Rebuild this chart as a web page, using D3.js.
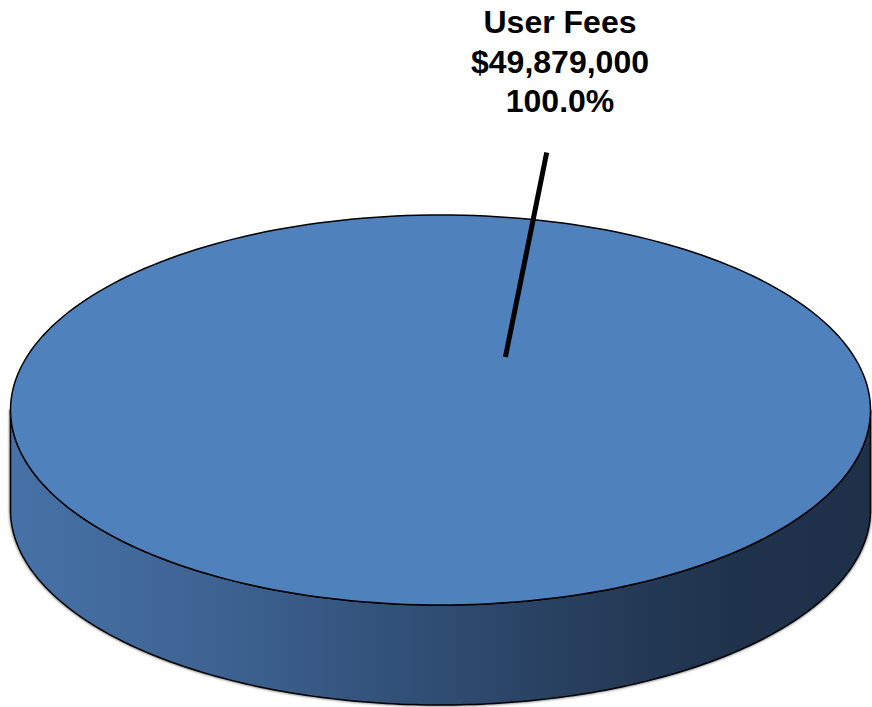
<!DOCTYPE html>
<html>
<head>
<meta charset="utf-8">
<script src="https://cdn.jsdelivr.net/npm/d3@7"></script>
<style>
  html, body { margin: 0; padding: 0; background: #ffffff; }
  svg { display: block; }
</style>
</head>
<body>
<svg id="chart" width="872" height="707"></svg>
<script>
// Revenue sources
const categories = ["User Fees"];
const values = [49879000];
const colors = ["#4f81bd"];

const W = 872, H = 707;
const cx = 440.5, cy = 410, rx = 430, ry = 195, depth = 100;

const svg = d3.select("#chart");
const defs = svg.append("defs");

// side shading, light on the left to dark on the right
const grad = defs.append("linearGradient")
  .attr("id", "sideGrad").attr("gradientUnits", "userSpaceOnUse")
  .attr("x1", cx - rx).attr("x2", cx + rx).attr("y1", 0).attr("y2", 0);
[[0, "#4772a7"], [0.25, "#3d6291"], [0.5, "#2f4c72"], [0.7, "#253b58"], [0.85, "#1f324c"], [1, "#1f3049"]]
  .forEach(([o, c]) => grad.append("stop").attr("offset", o).attr("stop-color", c));

const filt = defs.append("filter").attr("id", "halo").attr("x", "-5%").attr("y", "-5%").attr("width", "110%").attr("height", "110%");
filt.append("feGaussianBlur").attr("stdDeviation", 1.2);

const total = d3.sum(values);
const pie = d3.pie().sort(null).startAngle(0).endAngle(2 * Math.PI);
const arcs = pie(values);

// ellipse point for pie angle (0 = top, clockwise)
const ex = a => cx + rx * Math.sin(a);
const ey = (a, dz = 0) => cy - ry * Math.cos(a) + dz;

function topPath(d) {
  const n = 240, pts = [];
  const full = d.endAngle - d.startAngle >= 2 * Math.PI - 1e-6;
  if (!full) pts.push([cx, cy]);
  for (let i = 0; i <= n; i++) {
    const a = d.startAngle + (d.endAngle - d.startAngle) * i / n;
    pts.push([ex(a), ey(a)]);
  }
  return d3.line()(pts) + "Z";
}

// visible front wall: pie angles between PI/2 and 3PI/2
function sidePath(d) {
  const a0 = Math.max(d.startAngle, Math.PI / 2), a1 = Math.min(d.endAngle, 3 * Math.PI / 2);
  if (a1 <= a0) return null;
  const n = 200, upper = [], lower = [];
  for (let i = 0; i <= n; i++) {
    const a = a0 + (a1 - a0) * i / n;
    upper.push([ex(a), ey(a)]);
    lower.push([ex(a), ey(a, depth)]);
  }
  return d3.line()(upper.concat(lower.reverse())) + "Z";
}

const g = svg.append("g");

arcs.forEach((d, i) => {
  const sp = sidePath(d);
  if (sp) {
    g.append("path").attr("d", sp).attr("fill", "none")
      .attr("stroke", "#888").attr("stroke-width", 3).attr("filter", "url(#halo)");
    g.append("path").attr("d", sp).attr("fill", "url(#sideGrad)")
      .attr("stroke", "#000").attr("stroke-width", 1.5).attr("stroke-linejoin", "round");
  }
});

arcs.forEach((d, i) => {
  g.append("path").attr("d", topPath(d)).attr("fill", colors[i])
    .attr("stroke", "#000").attr("stroke-width", 1.5);
});

// data label with leader line
const fmt = d3.format("$,.0f");
const pct = d3.format(".1%");
arcs.forEach((d, i) => {
  const inner = [cx + 0.151 * rx, cy - 0.272 * ry];
  const outer = [cx + 0.247 * rx, cy - 1.32 * ry];
  svg.append("line")
    .attr("x1", inner[0]).attr("y1", inner[1]).attr("x2", outer[0]).attr("y2", outer[1])
    .attr("stroke", "#000").attr("stroke-width", 5);

  const t = svg.append("text")
    .attr("x", 560).attr("y", 33)
    .attr("text-anchor", "middle")
    .attr("font-family", "Liberation Sans, Arial, sans-serif")
    .attr("font-weight", "bold").attr("font-size", 32).attr("fill", "#000");
  [categories[i], fmt(d.data), pct(d.data / total)].forEach((s, k) => {
    t.append("tspan").attr("x", 560).attr("y", 33 + k * 39.5).text(s);
  });
});
</script>
</body>
</html>
